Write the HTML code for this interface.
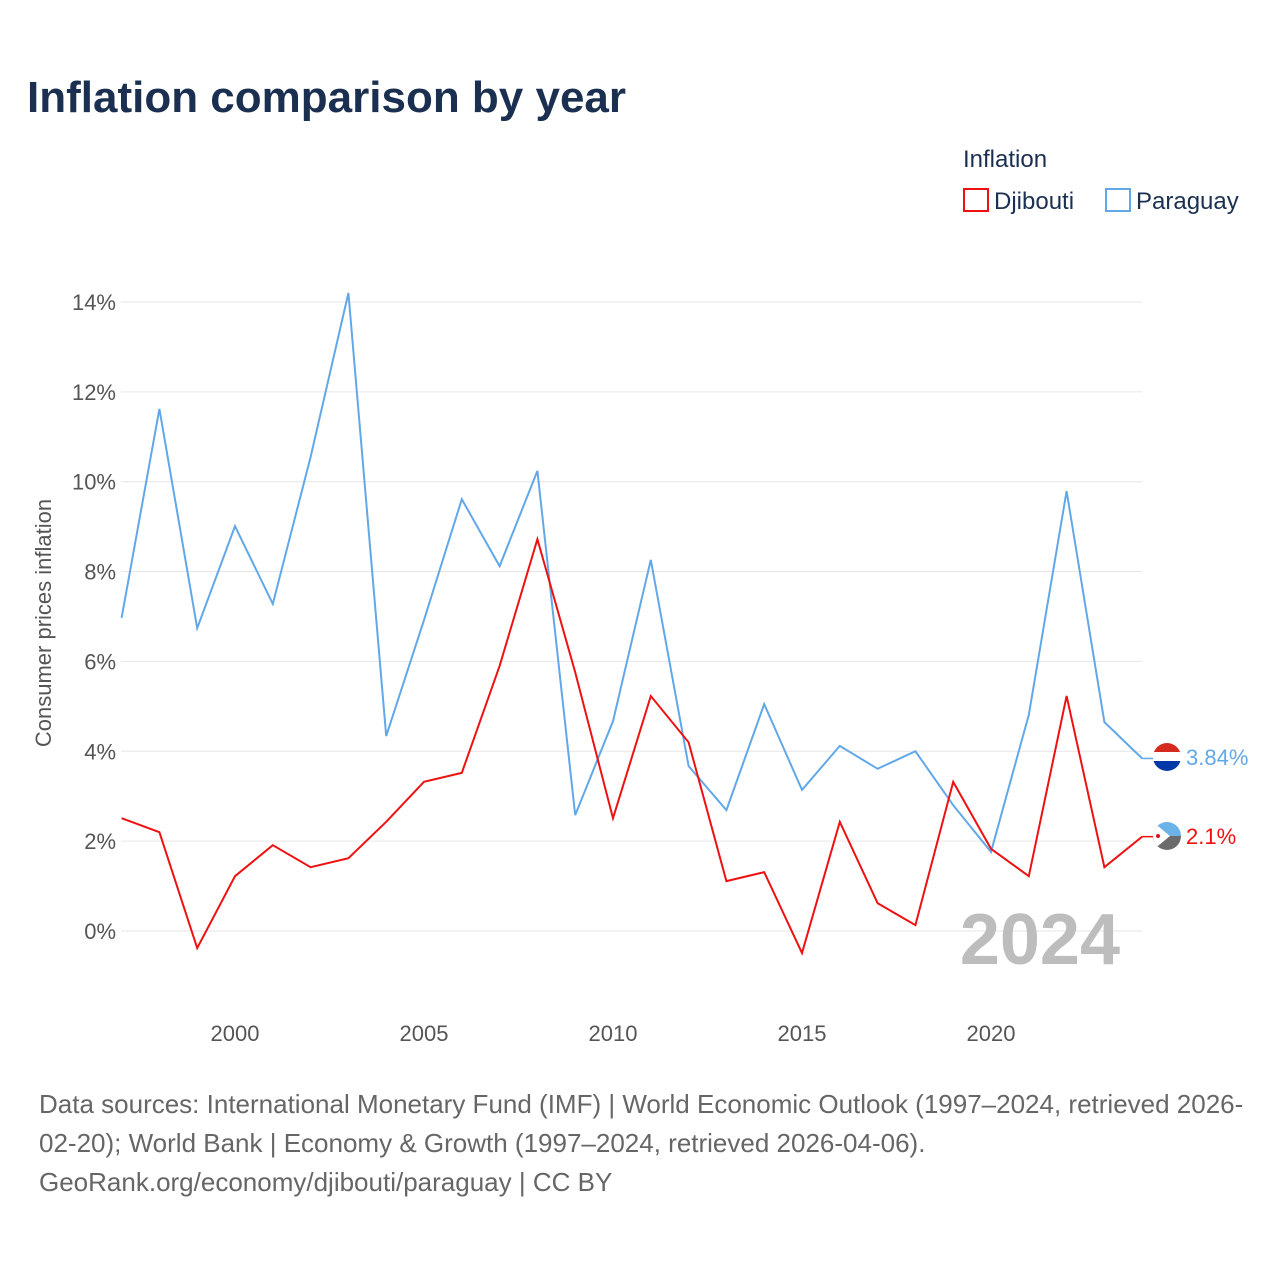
<!DOCTYPE html>
<html><head><meta charset="utf-8"><style>
body{margin:0;background:#fff;font-family:"Liberation Sans",sans-serif;}
</style></head><body>
<svg width="1280" height="1280" xmlns="http://www.w3.org/2000/svg" font-family="Liberation Sans, sans-serif">
<rect width="1280" height="1280" fill="#fff"/>
<text x="27" y="112" font-size="44" font-weight="bold" fill="#1b3050">Inflation comparison by year</text>
<text x="963" y="167" font-size="24" fill="#1b3050">Inflation</text>
<g><rect x="964" y="189" width="24" height="22" fill="none" stroke="#ee1111" stroke-width="2"/><text x="994" y="209" font-size="24" fill="#1b3050">Djibouti</text></g>
<g><rect x="1106" y="189" width="24" height="22" fill="none" stroke="#62a8e8" stroke-width="2"/><text x="1136" y="209" font-size="24" fill="#1b3050">Paraguay</text></g>
<g id="grid"></g>
<g id="yt"></g>
<g id="xt"></g>
<text transform="translate(51,623) rotate(-90)" text-anchor="middle" font-size="22" fill="#555">Consumer prices inflation</text>
<text x="1120" y="964" text-anchor="end" font-size="72" font-weight="bold" fill="#bdbdbd">2024</text>
<g id="series"></g>
<g><clipPath id="c1"><circle cx="1167" cy="757" r="14"/></clipPath><g clip-path="url(#c1)"><rect x="1153" y="743" width="28" height="10" fill="#d52b1e"/><rect x="1153" y="752" width="28" height="10" fill="#fff"/><rect x="1153" y="761" width="28" height="10" fill="#0038a8"/></g></g>
<g><clipPath id="c2"><circle cx="1167" cy="836" r="14"/></clipPath><g clip-path="url(#c2)"><rect x="1153" y="822" width="28" height="14" fill="#6ab2e7"/><rect x="1153" y="836" width="28" height="14" fill="#6b6b6b"/><path d="M1153 822 L1170 836 L1153 850Z" fill="#fff"/></g><circle cx="1158" cy="836" r="2" fill="#d7141a"/></g>
<text x="1186" y="765" font-size="22" fill="#62a8e8">3.84%</text>
<text x="1186" y="844" font-size="22" fill="#ee1111">2.1%</text>
<text font-size="26" fill="#666"><tspan x="39" y="1113">Data sources: International Monetary Fund (IMF) | World Economic Outlook (1997–2024, retrieved 2026-</tspan><tspan x="39" y="1152">02-20); World Bank | Economy &amp; Growth (1997–2024, retrieved 2026-04-06).</tspan><tspan x="39" y="1191">GeoRank.org/economy/djibouti/paraguay | CC BY</tspan></text>
</svg>
<script>
const years=[1997,1998,1999,2000,2001,2002,2003,2004,2005,2006,2007,2008,2009,2010,2011,2012,2013,2014,2015,2016,2017,2018,2019,2020,2021,2022,2023,2024];
const paraguay=[6.97,11.62,6.74,9.01,7.28,10.55,14.2,4.34,6.92,9.61,8.12,10.24,2.58,4.67,8.26,3.67,2.69,5.05,3.14,4.12,3.61,4.0,2.8,1.76,4.81,9.79,4.65,3.84];
const djibouti=[2.51,2.2,-0.38,1.22,1.91,1.42,1.62,2.43,3.32,3.52,5.9,8.72,5.76,2.51,5.23,4.2,1.11,1.31,-0.49,2.43,0.62,0.13,3.32,1.83,1.22,5.23,1.42,2.1];
const yTicks=[0,2,4,6,8,10,12,14];
const xTicks=[2000,2005,2010,2015,2020];
const NS="http://www.w3.org/2000/svg";
const x=v=>121.6+(v-1997)*37.8;
const y=v=>931-v*44.93;
function mk(t,a,p){const e=document.createElementNS(NS,t);for(const k in a)e.setAttribute(k,a[k]);p.appendChild(e);return e;}
const grid=document.getElementById('grid'),yt=document.getElementById('yt'),xt=document.getElementById('xt'),s=document.getElementById('series');
yTicks.forEach(v=>{
 const l=mk('line',{x1:121,x2:1142,y1:y(v),y2:y(v),stroke:'#e6e6e6','stroke-width':1},grid);
 
 
 const t=mk('text',{x:116,y:y(v)+8,'text-anchor':'end','font-size':22,fill:'#555'},yt);t.textContent=v+'%';
 
 
});
xTicks.forEach(v=>{
 const t=mk('text',{x:x(v),y:1041,'text-anchor':'middle','font-size':22,fill:'#555'},xt);t.textContent=v;
 
 
});
function line(vals,col,name){
 const p=mk('polyline',{points:vals.map((v,i)=>x(years[i])+','+y(v)).join(' '),fill:'none',stroke:col,'stroke-width':2,'stroke-linejoin':'miter'},s);
 
 
 const n=vals.length-1;
 const d=mk('line',{x1:x(years[n]),y1:y(vals[n]),x2:1153,y2:y(vals[n]),stroke:col,'stroke-width':1.5},s);
 
 
}
line(paraguay,'#62a8e8','line-paraguay');
line(djibouti,'#ee1111','line-djibouti');
</script>
</body></html>
